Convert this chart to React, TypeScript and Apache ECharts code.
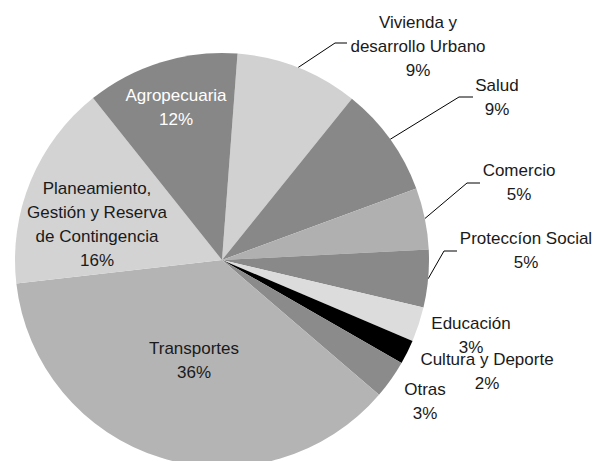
import React, { useEffect, useRef } from "react";
import * as echarts from "echarts";

const categories = [
  "Vivienda y\ndesarrollo Urbano",
  "Salud",
  "Comercio",
  "Proteccíon Social",
  "Educación",
  "Cultura y Deporte",
  "Otras",
  "Transportes",
  "Planeamiento,\nGestión y Reserva\nde Contingencia",
  "Agropecuaria",
];
const values = [9.6, 8.6, 4.8, 4.5, 2.7, 1.9, 3.0, 36.9, 16.1, 11.9];
const percentLabels = ["9%", "9%", "5%", "5%", "3%", "2%", "3%", "36%", "16%", "12%"];
const colors = [
  "#d1d1d1",
  "#888888",
  "#b0b0b0",
  "#898989",
  "#dcdcdc",
  "#000000",
  "#8b8b8b",
  "#b4b4b5",
  "#d3d3d4",
  "#878787",
];

// label placement (style only)
const labelPos: { x: number; y: number; inside?: boolean; white?: boolean; line?: number[][] }[] = [
  { x: 418, y: 46, line: [[335, 43], [347, 43]] },
  { x: 497, y: 97.5, line: [[459, 97], [473, 97]] },
  { x: 519, y: 182.5, line: [[467, 183], [480, 183]] },
  { x: 526, y: 250.5, line: [[444, 251], [457, 251]] },
  { x: 471, y: 335 },
  { x: 487, y: 371 },
  { x: 425, y: 401 },
  { x: 194, y: 360.5, inside: true },
  { x: 97, y: 224.5, inside: true },
  { x: 176, y: 107.5, inside: true, white: true },
];

export default function App() {
  const ref = useRef<HTMLDivElement>(null);
  useEffect(() => {
    if (!ref.current) return;
    const chart = echarts.init(ref.current, undefined, { renderer: "svg" });
    const data = categories.map((name, i) => {
      const p = labelPos[i];
      return {
        name,
        value: values[i],
        itemStyle: { color: colors[i] },
        label: {
          position: p.inside ? "inside" : "outside",
          color: p.white ? "#ffffff" : "#1a1a1a",
        },
        labelLine: { show: !!p.line },
      };
    });
    chart.setOption({
      animation: false,
      backgroundColor: "#ffffff",
      series: [
        {
          type: "pie",
          center: [222, 260],
          radius: [0, 207],
          startAngle: 85.7,
          clockwise: true,
          avoidLabelOverlap: false,
          data,
          itemStyle: { borderWidth: 0 },
          label: {
            show: true,
            fontFamily: "Liberation Sans, Arial, sans-serif",
            fontSize: 17,
            lineHeight: 24,
            align: "center",
            formatter: (params: any) => `${params.name}\n${percentLabels[params.dataIndex]}`,
          },
          labelLine: {
            show: true,
            length: 20,
            length2: 12,
            lineStyle: { color: "#000000", width: 1 },
          },
          labelLayout: (params: any) => {
            const p = labelPos[params.dataIndex];
            const res: any = { x: p.x, y: p.y, align: "center", verticalAlign: "middle" };
            if (p.line && params.labelLinePoints) {
              res.labelLinePoints = [params.labelLinePoints[0], p.line[0], p.line[1]];
            }
            return res;
          },
        },
      ],
    });
    return () => chart.dispose();
  }, []);
  return (
    <div
      ref={ref}
      style={{ position: "fixed", left: 0, top: 0, width: 598, height: 461, background: "#ffffff" }}
    />
  );
}
